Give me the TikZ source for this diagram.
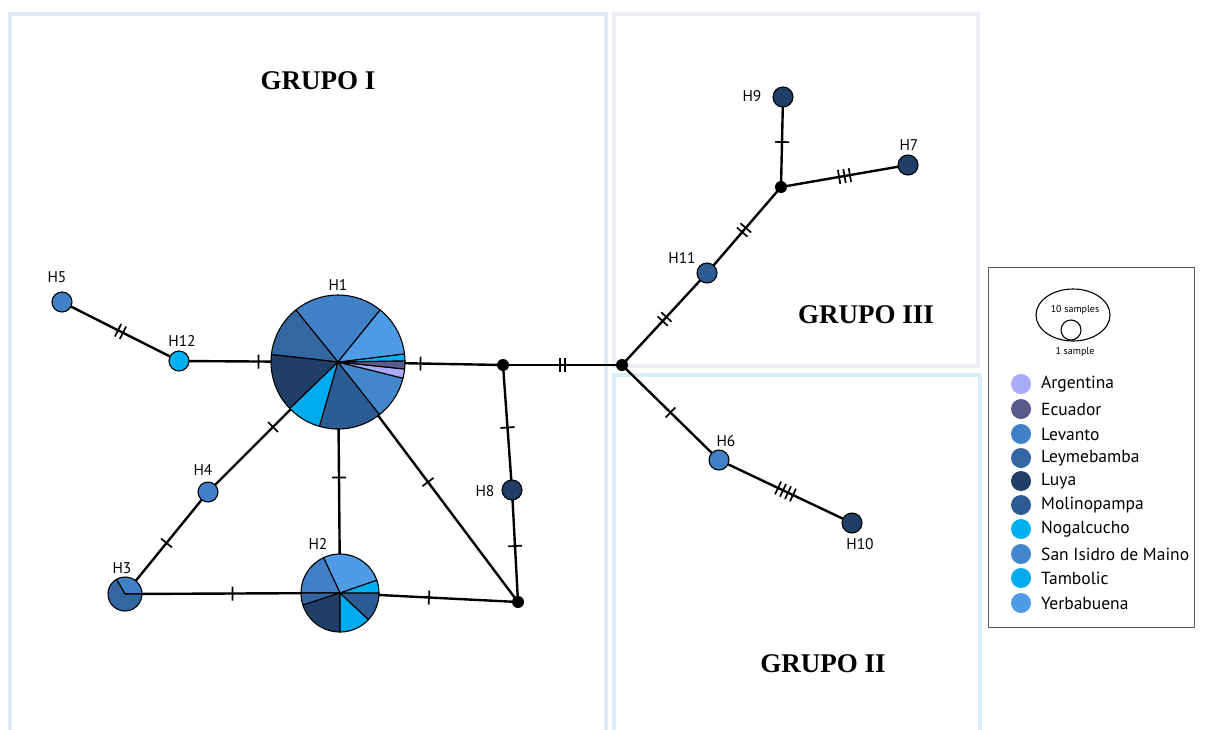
\documentclass[tikz,border=0pt]{standalone}
\usepackage{fontspec}
\setmainfont{Liberation Serif}
\setsansfont{PT Sans}
\usetikzlibrary{decorations.markings,shapes.geometric}
\pgfdeclarelayer{boxes}
\pgfdeclarelayer{edges}
\pgfsetlayers{boxes,edges,main}
\definecolor{cArg}{HTML}{AAAAFA}
\definecolor{cEcu}{HTML}{585A8A}
\definecolor{cLev}{HTML}{3F80C6}
\definecolor{cLey}{HTML}{3467A2}
\definecolor{cLuy}{HTML}{1F3F68}
\definecolor{cMol}{HTML}{2D5C94}
\definecolor{cNog}{HTML}{00B0F0}
\definecolor{cSan}{HTML}{4286CC}
\definecolor{cTam}{HTML}{00AAEE}
\definecolor{cYer}{HTML}{4F9BE6}
\definecolor{boxA}{HTML}{E0E8F6}
\definecolor{boxB}{HTML}{EEEEFD}
\definecolor{boxC}{HTML}{D8EEFB}
\newcommand\myslice[5]{\filldraw[fill=#5,draw=black,line width=1.1pt,line join=round] (#1) -- ++(#2:#4) arc[start angle=#2,end angle=#3,radius=#4] -- cycle;}
\tikzset{
  hap/.style={circle,draw=black,line width=1.1pt,minimum size=20pt,inner sep=0pt},
  piebase/.style={circle,inner sep=0pt},
  mv/.style={circle,fill=black,minimum size=12pt,inner sep=0pt},
  hlab/.style={font=\sffamily\fontsize{15.5}{17}\selectfont,inner sep=0pt},
  grp/.style={font=\bfseries\fontsize{27}{30}\selectfont,inner sep=0pt},
  edge/.style={line width=2.4pt},
  hatch/.style={postaction={decorate,decoration={markings,mark=at position 0.5 with {\foreach \k in {1,...,#1}{\draw[line width=1.7pt] ({(\k-(#1+1)/2)*5.5pt},-7pt) -- ({(\k-(#1+1)/2)*5.5pt},7pt);}}}}},
  grpbox/.style={line width=4.5pt},
  legdot/.style={circle,minimum size=20pt,inner sep=0pt},
  legtxt/.style={anchor=west,font=\sffamily\fontsize{17.5}{19}\selectfont,inner sep=0pt}
}
\begin{document}
\begin{tikzpicture}[x=1pt,y=-1pt]
\useasboundingbox (0,0) rectangle (1206,729);
\begin{pgfonlayer}{boxes}
\fill[white] (0,0) rectangle (1206,729);
\draw[grpbox,draw=boxA] (10,750) -- (10,14) -- (606,14) -- (606,750);
\draw[grpbox,draw=boxB] (614,14) rectangle (978,366);
\draw[grpbox,draw=boxC] (614,750) -- (614,375) -- (980,375) -- (980,750);
\end{pgfonlayer}
% titles
\node[grp] (g1) at (318,81) {GRUPO I};
\node[grp] (g3) at (866,315) {GRUPO III};
\node[grp] (g2) at (823,664) {GRUPO II};
% pie nodes
\node[piebase,minimum size=134pt] (H1) at (338,362) {};
\myslice{H1.center}{51}{129}{67pt}{cLev}
\myslice{H1.center}{129}{173.6}{67pt}{cLey}
\myslice{H1.center}{173.6}{224}{67pt}{cLuy}
\myslice{H1.center}{224}{254}{67pt}{cTam}
\myslice{H1.center}{254}{308.3}{67pt}{cMol}
\myslice{H1.center}{308.3}{346}{67pt}{cSan}
\myslice{H1.center}{346}{354}{67pt}{cArg}
\myslice{H1.center}{354}{361}{67pt}{cEcu}
\myslice{H1.center}{1}{7}{67pt}{cNog}
\myslice{H1.center}{7}{51}{67pt}{cYer}
\node[piebase,minimum size=78pt] (H2) at (340,593) {};
\myslice{H2.center}{19}{115}{39pt}{cYer}
\myslice{H2.center}{115}{180}{39pt}{cLev}
\myslice{H2.center}{180}{198}{39pt}{cLey}
\myslice{H2.center}{198}{270}{39pt}{cLuy}
\myslice{H2.center}{270}{317}{39pt}{cTam}
\myslice{H2.center}{317}{360}{39pt}{cMol}
\myslice{H2.center}{0}{19}{39pt}{cNog}
\node[piebase,minimum size=34pt] (H3) at (125,594) {};
\myslice{H3.center}{0}{120}{17pt}{cLev}
\myslice{H3.center}{120}{360}{17pt}{cLey}
% simple haplotypes
\node[hap,fill=cLev] (H5) at (62,302) {};
\node[hap,fill=cNog] (H12) at (179,361) {};
\node[hap,fill=cLev] (H4) at (208,492) {};
\node[hap,fill=cLuy] (H8) at (512,490) {};
\node[hap,fill=cLuy] (H9) at (783,97) {};
\node[hap,fill=cLuy] (H7) at (908,165) {};
\node[hap,fill=cMol] (H11) at (707,273) {};
\node[hap,fill=cLev] (H6) at (719,460) {};
\node[hap,fill=cLuy] (H10) at (852,523) {};
% median vectors
\node[mv] (m1) at (503,365) {};
\node[mv] (m2) at (622,365) {};
\node[mv] (m3) at (518,602) {};
\node[mv] (m4) at (781,187) {};
% labels
\node[hlab] (lH5) at (57,277) {H5};
\node[hlab] (lH12) at (182,341) {H12};
\node[hlab] (lH1) at (338,285) {H1};
\node[hlab] (lH4) at (203,470) {H4};
\node[hlab] (lH3) at (122,568) {H3};
\node[hlab] (lH2) at (318,544) {H2};
\node[hlab] (lH8) at (485,491) {H8};
\node[hlab] (lH9) at (752,96) {H9};
\node[hlab] (lH7) at (909,145) {H7};
\node[hlab] (lH11) at (682,258) {H11};
\node[hlab] (lH6) at (726,441) {H6};
\node[hlab] (lH10) at (860,544) {H10};
% edges
\begin{pgfonlayer}{edges}
\draw[edge,hatch=2] (H5.center) -- (H12.center);
\draw[edge,hatch=1] (H12.center) -- (H1.center);
\draw[edge,hatch=1] (H1.center) -- (m1.center);
\draw[edge,hatch=2] (m1.center) -- (m2.center);
\draw[edge,hatch=1] (m1.center) -- (H8.center);
\draw[edge,hatch=1] (H8.center) -- (m3.center);
\draw[edge,hatch=1] (H1.center) -- (m3.center);
\draw[edge,hatch=1] (H2.center) -- (m3.center);
\draw[edge,hatch=1] (H1.center) -- (H2.center);
\draw[edge,hatch=1] (H1.center) -- (H4.center);
\draw[edge,hatch=1] (H4.center) -- (H3.center);
\draw[edge,hatch=1] (H3.center) -- (H2.center);
\draw[edge,hatch=2] (m2.center) -- (H11.center);
\draw[edge,hatch=2] (H11.center) -- (m4.center);
\draw[edge,hatch=1] (m4.center) -- (H9.center);
\draw[edge,hatch=3] (m4.center) -- (H7.center);
\draw[edge,hatch=1] (m2.center) -- (H6.center);
\draw[edge,hatch=4] (H6.center) -- (H10.center);
\end{pgfonlayer}
% legend
\node[draw=black!65,line width=0.8pt,minimum width=206pt,minimum height=360pt,inner sep=0pt] (leg) at (1091,447) {};
\node[ellipse,draw=black,line width=1.1pt,minimum width=74pt,minimum height=52pt,inner sep=0pt] (big) at (1073,315) {};
\node[circle,draw=black,line width=1.1pt,minimum size=20pt,inner sep=0pt] (small) at (1071,330) {};
\node[font=\sffamily\fontsize{10}{11}\selectfont,inner sep=0pt] (t10) at (1075,310) {10 samples};
\node[font=\sffamily\fontsize{10}{11}\selectfont,inner sep=0pt] (t1) at (1075,352) {1 sample};
\foreach \nm/\col/\yy [count=\i] in {Argentina/cArg/384,Ecuador/cEcu/409,Levanto/cLev/434,Leymebamba/cLey/458,Luya/cLuy/481,Molinopampa/cMol/505,Nogalcucho/cNog/529,San Isidro de Maino/cSan/554,Tambolic/cTam/578,Yerbabuena/cYer/603}{
  \node[legdot,fill=\col] (ld\i) at (1021,\yy) {};
  \node[legtxt] (lt\i) at (1041,\yy) {\nm};
}
\end{tikzpicture}
\end{document}
